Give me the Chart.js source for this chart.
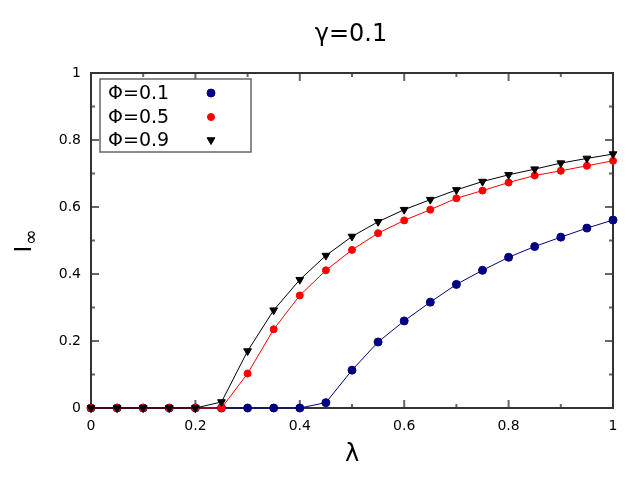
<!DOCTYPE html>
<html>
<head>
<meta charset="utf-8">
<script src="https://cdn.jsdelivr.net/npm/chart.js@4"></script>
<style>
  html, body { margin: 0; padding: 0; background: #fff; }
</style>
</head>
<body>
<canvas id="chart" width="640" height="480"></canvas>
<script>
// data
const lambdas = [0, 0.05, 0.1, 0.15, 0.2, 0.25, 0.3, 0.35, 0.4, 0.45, 0.5,
                 0.55, 0.6, 0.65, 0.7, 0.75, 0.8, 0.85, 0.9, 0.95, 1];
const phi01 = [0, 0, 0, 0, 0, 0, 0, 0, 0, 0.016, 0.113, 0.197, 0.260, 0.316,
               0.369, 0.411, 0.450, 0.482, 0.510, 0.537, 0.561];
const phi05 = [0, 0, 0, 0, 0, 0, 0.103, 0.235, 0.336, 0.411, 0.472, 0.522,
               0.560, 0.592, 0.626, 0.649, 0.673, 0.694, 0.708, 0.723, 0.738];
const phi09 = [0, 0, 0, 0, 0, 0.018, 0.170, 0.292, 0.383, 0.455, 0.512, 0.556,
               0.592, 0.622, 0.651, 0.676, 0.696, 0.713, 0.731, 0.745, 0.758];
const tickLabels = ['0', '0.2', '0.4', '0.6', '0.8', '1'];
const majorTicks = [0, 0.2, 0.4, 0.6, 0.8, 1];
const minorTicks = [0.1, 0.3, 0.5, 0.7, 0.9];

const FONT = 'DejaVu Sans';

function pairs(ys) {
  return lambdas.map((x, i) => ({ x: x, y: ys[i] }));
}

// frame + inward ticks, titles and the boxed legend
const framePlugin = {
  id: 'frame',
  beforeDatasetsDraw(chart) {
    const { ctx, chartArea: a, scales } = chart;
    const x = scales.x, y = scales.y;
    ctx.save();
    ctx.strokeStyle = '#666';
    ctx.lineWidth = 2;
    const drawTicks = (vals, len) => {
      vals.forEach(v => {
        const px = x.getPixelForValue(v);
        const py = y.getPixelForValue(v);
        ctx.beginPath();
        ctx.moveTo(px, a.bottom); ctx.lineTo(px, a.bottom - len);
        ctx.moveTo(px, a.top); ctx.lineTo(px, a.top + len);
        ctx.moveTo(a.left, py); ctx.lineTo(a.left + len, py);
        ctx.moveTo(a.right, py); ctx.lineTo(a.right - len, py);
        ctx.stroke();
      });
    };
    drawTicks(majorTicks, 8);
    drawTicks(minorTicks, 4);
    ctx.strokeStyle = '#333';
    ctx.strokeRect(a.left, a.top, a.right - a.left, a.bottom - a.top);
    ctx.restore();
  },
  afterDraw(chart) {
    const { ctx } = chart;
    ctx.save();
    ctx.fillStyle = '#000';
    ctx.textAlign = 'center';
    ctx.textBaseline = 'middle';

    // title
    ctx.font = '24px "' + FONT + '"';
    ctx.fillText('γ=0.1', 351, 35);

    // x axis title
    ctx.font = '24px "' + FONT + '"';
    ctx.fillText('λ', 352, 455);

    // y axis title: I with subscript infinity
    ctx.translate(25.5, 249);
    ctx.rotate(-Math.PI / 2);
    ctx.font = '23px "' + FONT + '"';
    ctx.fillText('I', 0, 0);
    ctx.font = '19px "' + FONT + '"';
    ctx.fillText('∞', 12, 7);
    ctx.restore();

    // legend box
    ctx.save();
    ctx.fillStyle = '#fff';
    ctx.fillRect(100, 79, 151, 73);
    ctx.strokeStyle = '#666';
    ctx.lineWidth = 1.5;
    ctx.strokeRect(100, 79, 151, 73);
    ctx.font = '19px "' + FONT + '"';
    ctx.textAlign = 'left';
    ctx.textBaseline = 'middle';
    const rows = [93, 117, 140];
    const legendOrder = [2, 1, 0];
    legendOrder.forEach((di, i) => {
      const ds = chart.data.datasets[di];
      ctx.fillStyle = '#000';
      ctx.fillText(ds.label, 108, rows[i] + 1);
      ctx.fillStyle = ds.pointBackgroundColor;
      ctx.strokeStyle = ds.pointBorderColor;
      ctx.lineWidth = 1;
      Chart.helpers.drawPoint(ctx, {
        pointStyle: ds.pointStyle,
        radius: ds.pointRadius,
        rotation: ds.pointRotation || 0,
        borderWidth: 1
      }, 211, rows[i]);
    });
    ctx.restore();
  }
};

new Chart(document.getElementById('chart').getContext('2d'), {
  type: 'line',
  data: {
    datasets: [{
      label: 'Φ=0.9',
      data: pairs(phi09),
      borderColor: '#000',
      backgroundColor: '#000',
      pointBackgroundColor: '#000',
      pointBorderColor: '#000',
      pointStyle: 'triangle',
      pointRotation: 180,
      pointRadius: 4.5,
      borderWidth: 1,
      order: 0
    }, {
      label: 'Φ=0.5',
      data: pairs(phi05),
      borderColor: '#ff0000',
      backgroundColor: '#ff0000',
      pointBackgroundColor: '#ff0000',
      pointBorderColor: '#ff0000',
      pointStyle: 'circle',
      pointRadius: 3.5,
      borderWidth: 1,
      order: 1
    }, {
      label: 'Φ=0.1',
      data: pairs(phi01),
      borderColor: '#000080',
      backgroundColor: '#000080',
      pointBackgroundColor: '#000080',
      pointBorderColor: '#000080',
      pointStyle: 'circle',
      pointRadius: 4,
      borderWidth: 1,
      order: 2
    }]
  },
  options: {
    responsive: false,
    animation: false,
    devicePixelRatio: 1,
    clip: false,
    layout: { padding: { top: 73, right: 27, left: 1, bottom: 0 } },
    plugins: {
      legend: { display: false },
      tooltip: { enabled: false }
    },
    elements: { line: { tension: 0 } },
    scales: {
      x: {
        type: 'linear',
        min: 0,
        max: 1,
        afterFit: s => { s.height = 72; },
        grid: { display: false, drawTicks: false },
        border: { display: false },
        ticks: {
          stepSize: 0.2,
          padding: 10,
          maxRotation: 0,
          autoSkip: false,
          color: '#000',
          font: { family: FONT, size: 14 },
          callback: (v, i) => tickLabels[i]
        }
      },
      y: {
        type: 'linear',
        min: 0,
        max: 1,
        afterFit: s => { s.width = 90; },
        grid: { display: false, drawTicks: false },
        border: { display: false },
        ticks: {
          stepSize: 0.2,
          padding: 10,
          autoSkip: false,
          color: '#000',
          font: { family: FONT, size: 14 },
          callback: (v, i) => tickLabels[i]
        }
      }
    }
  },
  plugins: [framePlugin]
});
</script>
</body>
</html>
